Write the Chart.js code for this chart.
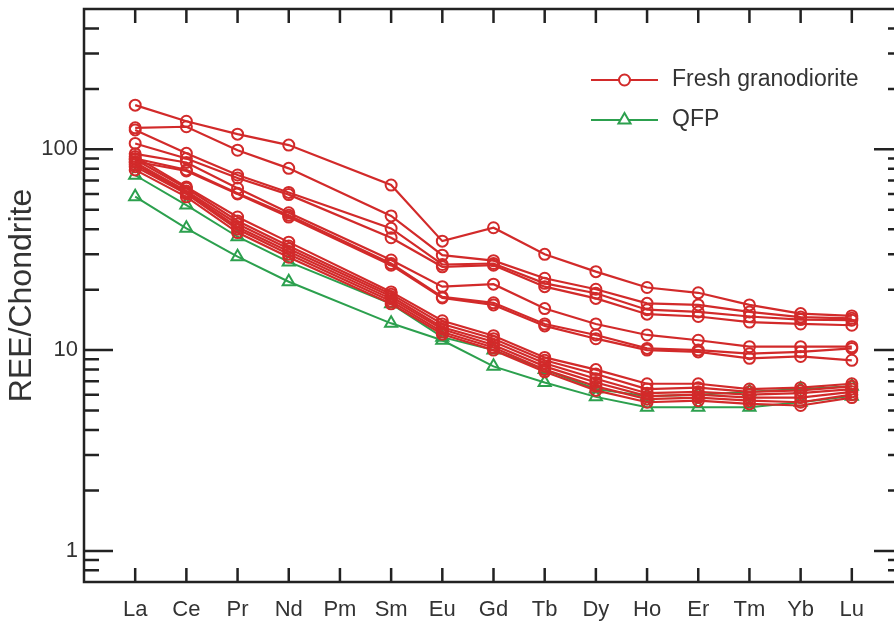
<!DOCTYPE html>
<html>
<head>
<meta charset="utf-8">
<script src="https://cdn.jsdelivr.net/npm/chart.js@4.4.1/dist/chart.umd.min.js"></script>
<style>
  html, body { margin: 0; padding: 0; background: #fff; overflow: hidden; }
  #wrap { width: 894px; height: 621px; overflow: hidden; }
</style>
</head>
<body>
<div id="wrap"><canvas id="chart" width="912" height="621"></canvas></div>
<script>
// REE chondrite-normalised values, Pm not analysed (null)
const elements = ["La", "Ce", "Pr", "Nd", "Pm", "Sm", "Eu", "Gd", "Tb", "Dy", "Ho", "Er", "Tm", "Yb", "Lu"];

// fresh granodiorite samples
const gd1 = [166, 138, 119, 105, null, 66.4, 34.9, 40.7, 30.0, 24.6, 20.5, 19.3, 16.8, 15.2, 14.8];
const gd2 = [128, 129.6, 99, 80.4, null, 46.6, 29.7, 27.9, 22.8, 20.1, 17.1, 16.8, 15.5, 14.6, 14.4];
const gd3 = [125, 95.5, 74.5, 61, null, 40.4, 26.7, 27.0, 21.5, 19.2, 15.9, 15.5, 14.7, 14.2, 14.1];
const gd4 = [107, 90, 72, 59.5, null, 36.3, 26.0, 26.5, 20.7, 18.1, 15.1, 14.7, 13.8, 13.5, 13.3];
const gd5 = [95, 86, 64, 48.3, null, 28.1, 20.7, 21.3, 16.1, 13.5, 11.9, 11.2, 10.4, 10.4, 10.4];
const gd6 = [90, 79, 60.4, 47, null, 27.0, 18.4, 17.2, 13.5, 11.9, 10.2, 10.0, 9.6, 9.8, 10.2];
const gd7 = [87, 78, 60, 46, null, 26.5, 18.2, 16.8, 13.2, 11.4, 10.0, 9.8, 9.1, 9.3, 8.9];
const gd8 = [92, 65, 46, 34.5, null, 19.5, 14.0, 11.8, 9.2, 8.0, 6.8, 6.8, 6.4, 6.5, 6.8];
const gd9 = [89, 64, 44, 33, null, 19.0, 13.5, 11.4, 8.9, 7.6, 6.4, 6.5, 6.2, 6.3, 6.6];
const gd10 = [86, 62, 42.5, 32, null, 18.5, 13.0, 11.0, 8.6, 7.2, 6.1, 6.2, 6.0, 6.1, 6.4];
const gd11 = [84, 61, 41, 31, null, 18.0, 12.7, 10.6, 8.3, 6.9, 5.9, 6.0, 5.8, 5.8, 6.2];
const gd12 = [82, 60, 40, 30, null, 17.5, 12.3, 10.3, 8.0, 6.6, 5.7, 5.8, 5.6, 5.5, 6.0];
const gd13 = [79, 58, 38.5, 29, null, 17.0, 12.0, 10.0, 7.8, 6.3, 5.5, 5.6, 5.4, 5.3, 5.8];

// QFP samples
const qfp1 = [74.3, 52.8, 36.7, 27.5, null, 17.0, 11.6, 10.0, 8.0, 6.4, 5.9, 6.0, 6.2, 6.4, 6.6];
const qfp2 = [58.1, 40.4, 29.2, 21.9, null, 13.6, 11.2, 8.3, 6.9, 5.85, 5.2, 5.2, 5.2, 5.5, 5.9];

const granodiorite = [gd1, gd2, gd3, gd4, gd5, gd6, gd7, gd8, gd9, gd10, gd11, gd12, gd13];
const qfp = [qfp1, qfp2];

// y axis ticks
const majorTicks = [1, 10, 100];
const minorTicks = [0.8, 0.9, 2, 3, 4, 5, 6, 7, 8, 9, 20, 30, 40, 50, 60, 70, 80, 90, 200, 300, 400];

const RED = "rgb(210,42,42)";
const GREEN = "rgb(44,160,78)";
const FONT = "'Liberation Sans', Arial, sans-serif";

function toPoints(arr) {
  return arr.map((v, i) => ({ x: i, y: v })).filter(p => p.y !== null);
}

const datasets = [];
granodiorite.forEach(s => datasets.push({
  label: "Fresh granodiorite",
  data: toPoints(s),
  borderColor: RED,
  borderWidth: 2.2,
  pointStyle: "circle",
  pointRadius: 5.5,
  pointBorderWidth: 2,
  pointBorderColor: RED,
  pointBackgroundColor: "rgba(0,0,0,0)",
  order: 1,
}));
qfp.forEach(s => datasets.push({
  label: "QFP",
  data: toPoints(s),
  borderColor: GREEN,
  borderWidth: 2,
  pointStyle: "triangle",
  pointRadius: 7,
  pointBorderWidth: 2,
  pointBorderColor: GREEN,
  pointBackgroundColor: "rgba(0,0,0,0)",
  order: 2,
}));

// box around plot + inward ticks on all four sides
const frameTicks = {
  id: "frameTicks",
  afterDraw(chart) {
    const { ctx, chartArea: a, scales: { x, y } } = chart;
    ctx.save();
    ctx.strokeStyle = "#222";
    ctx.lineWidth = 2.5;
    ctx.strokeRect(a.left, a.top, a.right - a.left, a.bottom - a.top);
    ctx.beginPath();
    elements.forEach((_, i) => {
      const px = x.getPixelForValue(i);
      ctx.moveTo(px, a.bottom); ctx.lineTo(px, a.bottom - 14);
      ctx.moveTo(px, a.top); ctx.lineTo(px, a.top + 14);
    });
    majorTicks.forEach(v => {
      const py = y.getPixelForValue(v);
      ctx.moveTo(a.left, py); ctx.lineTo(a.left + 29, py);
      ctx.moveTo(a.right, py); ctx.lineTo(a.right - 29, py);
    });
    minorTicks.forEach(v => {
      const py = y.getPixelForValue(v);
      ctx.moveTo(a.left, py); ctx.lineTo(a.left + 15, py);
      ctx.moveTo(a.right, py); ctx.lineTo(a.right - 15, py);
    });
    ctx.stroke();
    ctx.restore();
  }
};

// legend drawn as line + marker like the original
const lineLegend = {
  id: "lineLegend",
  afterDraw(chart) {
    const { ctx, chartArea: a } = chart;
    const x0 = a.left + 507, x1 = a.left + 574, xm = (x0 + x1) / 2;
    const items = [
      { text: "Fresh granodiorite", color: RED, style: "circle", y: a.top + 71 },
      { text: "QFP", color: GREEN, style: "triangle", y: a.top + 111 },
    ];
    ctx.save();
    items.forEach(it => {
      ctx.strokeStyle = it.color;
      ctx.lineWidth = 2;
      ctx.beginPath();
      ctx.moveTo(x0, it.y); ctx.lineTo(x1, it.y);
      ctx.stroke();
      ctx.fillStyle = "#fff";
      ctx.beginPath();
      if (it.style === "circle") {
        ctx.arc(xm, it.y, 5.5, 0, Math.PI * 2);
      } else {
        const r = 7;
        ctx.moveTo(xm, it.y - r);
        ctx.lineTo(xm + r * Math.sin(Math.PI / 3), it.y + r / 2);
        ctx.lineTo(xm - r * Math.sin(Math.PI / 3), it.y + r / 2);
        ctx.closePath();
      }
      ctx.fill();
      ctx.stroke();
      ctx.fillStyle = "#333";
      ctx.font = "23px " + FONT;
      ctx.textBaseline = "middle";
      ctx.fillText(it.text, x1 + 14, it.y);
    });
    ctx.restore();
  }
};

new Chart(document.getElementById("chart"), {
  type: "line",
  data: { datasets },
  options: {
    responsive: false,
    animation: false,
    layout: { padding: { top: 9, right: 9, left: 0, bottom: 0 } },
    plugins: { legend: { display: false }, tooltip: { enabled: false } },
    elements: { line: { tension: 0 } },
    scales: {
      x: {
        type: "linear",
        min: -1,
        max: 15,
        grid: { display: false, drawTicks: false },
        border: { display: false },
        afterBuildTicks: s => { s.ticks = elements.map((_, i) => ({ value: i })); },
        afterFit: s => { s.height = 39; s.paddingLeft = 0; s.paddingRight = 0; },
        ticks: {
          autoSkip: false,
          maxRotation: 0,
          padding: 15,
          color: "#333",
          font: { family: FONT, size: 22 },
          callback: v => elements[v],
        },
      },
      y: {
        type: "logarithmic",
        min: 0.7,
        max: 500,
        grid: { display: false, drawTicks: false },
        border: { display: false },
        afterBuildTicks: s => { s.ticks = majorTicks.map(v => ({ value: v, major: true })); },
        afterFit: s => { s.width = 84; s.paddingTop = 0; s.paddingBottom = 0; },
        ticks: {
          padding: 6,
          color: "#333",
          font: { family: FONT, size: 22 },
          callback: v => String(v),
        },
        title: {
          display: true,
          text: "REE/Chondrite",
          color: "#333",
          font: { family: FONT, size: 32 },
          padding: { top: 3, bottom: 0 },
        },
      },
    },
  },
  plugins: [frameTicks, lineLegend],
});
</script>
</body>
</html>
